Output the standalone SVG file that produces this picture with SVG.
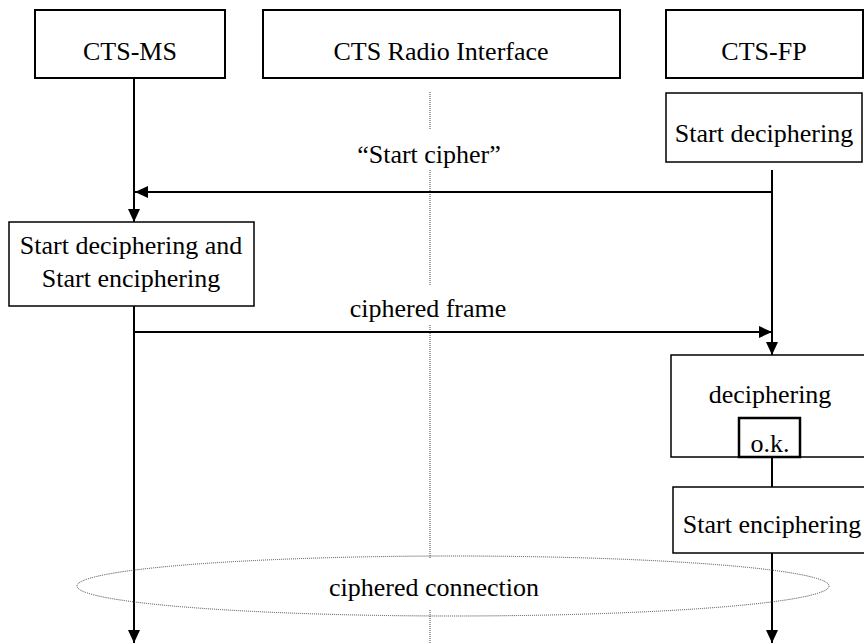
<svg xmlns="http://www.w3.org/2000/svg" width="864" height="644" viewBox="0 0 864 644">
<style>
.box{fill:#fff;stroke:#000;stroke-width:2}
.t{font-family:"Liberation Serif","Times New Roman",serif;font-size:26px;fill:#000;text-anchor:middle}
.ln{stroke:#000;stroke-width:2;fill:none}
.dot{stroke:#444;stroke-width:1;stroke-dasharray:1,1;fill:none}
</style>
<defs>
<marker id="ah" markerUnits="userSpaceOnUse" markerWidth="14" markerHeight="12" refX="13" refY="6" orient="auto">
<path d="M0,0 L13,6 L0,12 z" fill="#000"/>
</marker>
</defs>
<rect width="864" height="644" fill="#fff"/>
<g id="radio-line">
<path class="dot" d="M430,92 V129 M430,170 V285 M430,325 V558 M430,610 V644"/>
</g>
<g id="connectors">
<path class="ln" d="M134,78 V222" marker-end="url(#ah)"/>
<path class="ln" d="M772,170 V355" marker-end="url(#ah)"/>
<path class="ln" d="M772,192 H135" marker-end="url(#ah)"/>
<path class="ln" d="M134,306 V643" marker-end="url(#ah)"/>
<path class="ln" d="M134,332 H772" marker-end="url(#ah)"/>
<path class="ln" d="M772,457 V487"/>
<path class="ln" d="M772,553 V643" marker-end="url(#ah)"/>
</g>
<g id="ms">
<rect class="box" x="35" y="10" width="190" height="68"/>
<text class="t" x="130" y="60">CTS-MS</text>
</g>
<g id="radio">
<rect class="box" x="263" y="10" width="357" height="68"/>
<text class="t" x="441" y="60">CTS Radio Interface</text>
</g>
<g id="fp">
<rect class="box" x="666" y="10" width="197" height="68"/>
<text class="t" x="764" y="60">CTS-FP</text>
</g>
<g id="fp-start-deciphering">
<rect class="box" x="666" y="93" width="196" height="69" style="stroke-width:1.5"/>
<text class="t" x="764" y="142">Start deciphering</text>
</g>
<g id="ms-start">
<rect class="box" x="9" y="222" width="245" height="84" style="stroke-width:1.5"/>
<text class="t" x="131" y="254">Start deciphering and</text>
<text class="t" x="131" y="287">Start enciphering</text>
</g>
<g id="deciphering">
<rect class="box" x="671" y="355" width="200" height="102" style="stroke-width:1.5"/>
<text class="t" x="770" y="403">deciphering</text>
</g>
<g id="ok">
<rect class="box" x="739" y="418" width="61" height="39" style="stroke-width:2.5"/>
<text class="t" x="770" y="452">o.k.</text>
</g>
<g id="fp-start-enciphering">
<rect class="box" x="673" y="487" width="198" height="66" style="stroke-width:1.5"/>
<text class="t" x="772" y="533">Start enciphering</text>
</g>
<g id="ciphered-connection">
<ellipse class="dot" cx="453" cy="586" rx="376" ry="30"/>
<text class="t" x="434" y="596">ciphered connection</text>
</g>
<g id="labels">
<text class="t" x="429" y="163">“Start cipher”</text>
<text class="t" x="428" y="317">ciphered frame</text>
</g>
</svg>
